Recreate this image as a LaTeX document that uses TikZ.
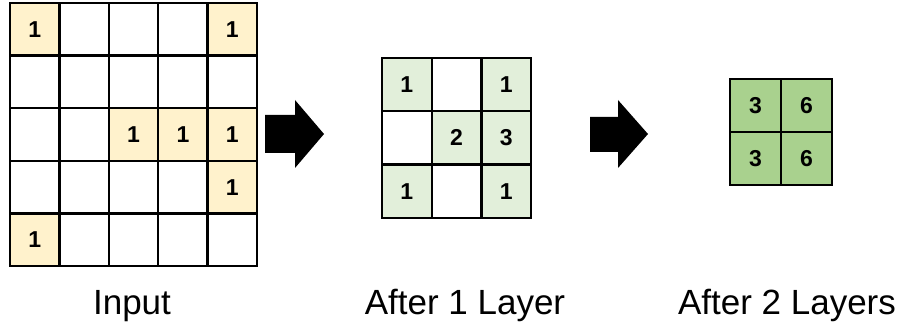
\documentclass[tikz,border=0pt]{standalone}
\usepackage{fontspec}
\setmainfont{Liberation Sans}
\definecolor{inyellow}{HTML}{FFF2CC}
\definecolor{lightgreen}{HTML}{E2EFDA}
\definecolor{midgreen}{HTML}{A9D18E}
\begin{document}
\begin{tikzpicture}[x=1pt,y=-1pt,
  cell/.style={inner sep=0pt,outer sep=0pt,
    font=\fontsize{23}{23}\selectfont\bfseries},
  gridline/.style={draw=black,line width=2.4pt},
  caption/.style={font=\fontsize{35}{35}\selectfont,anchor=base},
  bigarrow/.style={fill=black}]
\useasboundingbox (0,0) rectangle (906,326);

% input grid: 5 x 5 cells
\foreach \r in {0,...,4}{
  \foreach \c in {0,...,4}{
    \node[cell,minimum width=49.4pt,minimum height=52.6pt]
      (in-\r-\c) at ({10+49.4*(\c+0.5)},{3+52.6*(\r+0.5)}) {};
  }
}
\foreach \r/\c in {0/0,0/4,2/2,2/3,2/4,3/4,4/0}{
  \node[cell,fill=inyellow,minimum width=49.4pt,minimum height=52.6pt]
    at (in-\r-\c) {1};
}
\foreach \r in {0,...,4}{
  \foreach \c in {0,...,4}{
    \draw[gridline] (in-\r-\c.north west) rectangle (in-\r-\c.south east);
  }
}

% grid after one layer: 3 x 3 cells
\foreach \r/\c/\v/\f in {0/0/1/lightgreen,0/1//white,0/2/1/lightgreen,
                         1/0//white,1/1/2/lightgreen,1/2/3/lightgreen,
                         2/0/1/lightgreen,2/1//white,2/2/1/lightgreen}{
  \node[cell,fill=\f,minimum width=49.7pt,minimum height=53.3pt]
    (mid-\r-\c) at ({382+49.7*(\c+0.5)},{58+53.3*(\r+0.5)}) {\v};
}
\foreach \r in {0,1,2}{
  \foreach \c in {0,1,2}{
    \draw[gridline] (mid-\r-\c.north west) rectangle (mid-\r-\c.south east);
  }
}

% grid after two layers: 2 x 2 cells
\foreach \r/\c/\v in {0/0/3,0/1/6,1/0/3,1/1/6}{
  \node[cell,fill=midgreen,minimum width=51pt,minimum height=53pt]
    (out-\r-\c) at ({730+51*(\c+0.5)},{79+53*(\r+0.5)}) {\v};
}
\foreach \r in {0,1}{
  \foreach \c in {0,1}{
    \draw[gridline] (out-\r-\c.north west) rectangle (out-\r-\c.south east);
  }
}

% block arrows between the stages
\fill[bigarrow] (265,115) -- (295,115) -- (295,100) -- (324,134)
  -- (295,168) -- (295,153) -- (265,153) -- cycle;
\fill[bigarrow] (590,117) -- (618,117) -- (618,100) -- (648,134)
  -- (618,168) -- (618,152) -- (590,152) -- cycle;

% captions
\node[caption] (cap-in) at (132,314) {Input};
\node[caption] (cap-mid) at (465,314) {After 1 Layer};
\node[caption] (cap-out) at (787,314) {After 2 Layers};
\end{tikzpicture}
\end{document}
